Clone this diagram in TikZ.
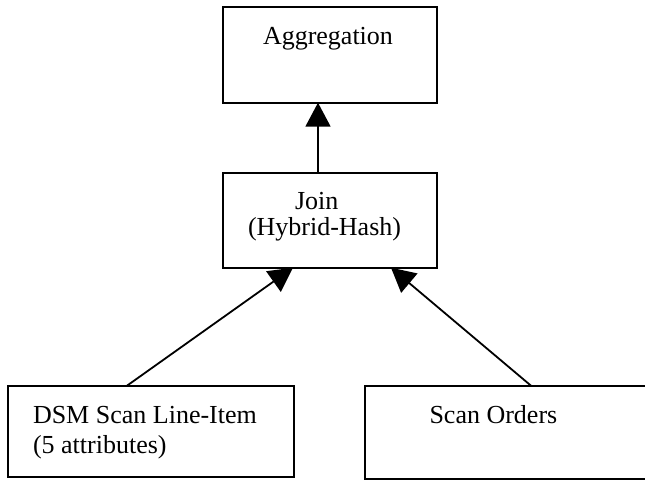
\documentclass[tikz,border=0pt]{standalone}
\usepackage{fontspec}
\setmainfont{Liberation Serif}
\usetikzlibrary{arrows.meta}
\begin{document}
\begin{tikzpicture}[x=1pt,y=-1pt,
  opbox/.style={draw=black,line width=2pt,rectangle,inner sep=0pt,outer sep=0pt,anchor=north west},
  lbl/.style={inner sep=0pt,outer sep=0pt,anchor=base west,font=\fontsize{26}{30}\selectfont},
  flow/.style={line width=1.8pt,-{Triangle[length=24pt,width=25pt]}}]
\useasboundingbox (0,0) rectangle (645,481);
\node[opbox,minimum width=214pt,minimum height=96pt] (agg) at (222.7,6.7) {};
\node[opbox,minimum width=214pt,minimum height=95pt] (join) at (222.7,172.7) {};
\node[opbox,minimum width=285.7pt,minimum height=91pt] (dsm) at (8.3,385.7) {};
\node[opbox,minimum width=283pt,minimum height=93.3pt] (ord) at (365,385.7) {};
\node[lbl] (taggr) at (263,45) {Aggregation};
\node[lbl] (tjoin1) at (295,210) {Join};
\node[lbl] (tjoin2) at (248,235) {(Hybrid-Hash)};
\node[lbl] (tdsm1) at (33,423) {DSM Scan Line-Item};
\node[lbl] (tdsm2) at (33,453) {(5 attributes)};
\node[lbl] (tord) at (429.5,423) {Scan Orders};
\path (join.north west) ++(95.3,0) coordinate (jt);
\path (agg.south west) ++(95.3,0) coordinate (ab);
\path (join.south west) ++(70.3,0) coordinate (jbl);
\path (join.south west) ++(168.3,0) coordinate (jbr);
\path (dsm.north west) ++(118.7,0) coordinate (dt);
\path (ord.north west) ++(166,0) coordinate (ot);
\draw[flow] (jt) -- (ab);
\draw[flow] (dt) -- (jbl);
\draw[flow] (ot) -- (jbr);
\end{tikzpicture}
\end{document}
